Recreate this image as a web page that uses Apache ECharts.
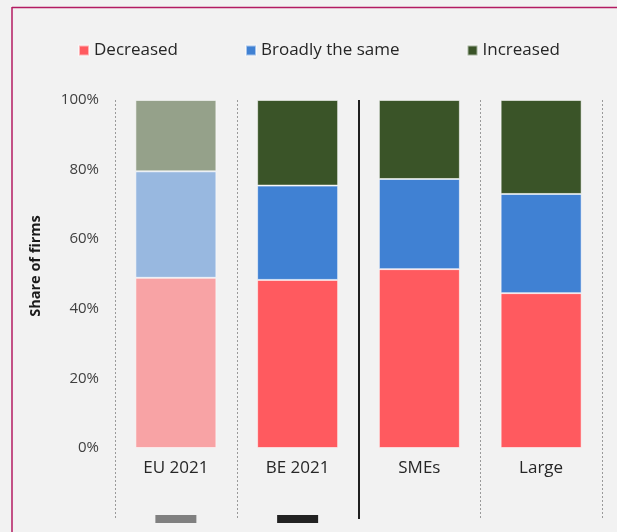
<!DOCTYPE html>
<html>
<head>
<meta charset="utf-8">
<script src="https://cdn.jsdelivr.net/npm/echarts@6/dist/echarts.min.js"></script>
<style>
html,body{margin:0;padding:0;background:#f2f2f2;overflow:hidden;}
#chart{position:absolute;left:0;top:0;width:617px;height:532px;}
</style>
</head>
<body>
<div id="chart"></div>
<script>
const categories = ['EU 2021', 'BE 2021', 'SMEs', 'Large'];
const seriesNames = ['Decreased', 'Broadly the same', 'Increased'];
const decreased = [48.9, 48.3, 51.4, 44.5];
const broadlySame = [30.6, 27.1, 25.9, 28.5];
const increased = [20.5, 24.6, 22.7, 27.0];
const yTicks = [0, 20, 40, 60, 80, 100];
const groupMarkers = [['EU 2021', '#808080'], ['BE 2021', '#222222']];

const mainColors = ['#ff5a5f', '#4081d3', '#3a5428'];
const fadedColors = ['#f8a3a5', '#98b8e0', '#95a18a'];
const valuesBySeries = [decreased, broadlySame, increased];

const chart = echarts.init(document.getElementById('chart'));
const font = '"Open Sans", "Noto Sans", sans-serif';

const barSeries = seriesNames.map((name, s) => ({
  name: name,
  type: 'bar',
  stack: 'total',
  xAxisIndex: 0,
  yAxisIndex: 0,
  barWidth: 81,
  itemStyle: { color: mainColors[s], borderColor: 'rgba(255,255,255,0.55)', borderWidth: 1 },
  data: valuesBySeries[s].map((v, i) => ({
    value: v,
    itemStyle: { color: i === 0 ? fadedColors[s] : mainColors[s] }
  }))
}));

chart.setOption({
  backgroundColor: '#f2f2f2',
  animation: false,
  textStyle: { fontFamily: font },
  graphic: [
    { type: 'line', silent: true, shape: { x1: 12, y1: 7, x2: 12, y2: 532 }, style: { stroke: '#b31b62', lineWidth: 1.5 } },
    { type: 'line', silent: true, shape: { x1: 12, y1: 7.5, x2: 617, y2: 7.5 }, style: { stroke: '#b31b62', lineWidth: 1.5 } }
  ],
  legend: {
    top: 37,
    left: 73,
    itemWidth: 10,
    itemHeight: 10,
    itemGap: 67,
    icon: 'rect',
    textStyle: { fontSize: 17, color: '#262626', fontFamily: font },
    data: seriesNames
  },
  grid: [
    { left: 115, right: 15, top: 100, bottom: 84 },
    { left: 115, right: 15, top: 100, bottom: 13 },
    { left: 115, right: 15, top: 515, height: 8 }
  ],
  xAxis: [
    {
      type: 'category', gridIndex: 0, data: categories,
      axisLine: { show: false }, axisTick: { show: false },
      axisLabel: { fontSize: 17, color: '#262626', margin: 12, fontFamily: font }
    },
    {
      type: 'value', gridIndex: 1, min: 0, max: 4, interval: 1,
      axisLine: { show: false }, axisTick: { show: false }, axisLabel: { show: false },
      splitLine: { show: true, lineStyle: { type: [2, 2], width: 1, color: ['#9a9a9a', '#9a9a9a', 'rgba(0,0,0,0)', '#9a9a9a', '#9a9a9a'] } }
    },
    {
      type: 'category', gridIndex: 2, data: categories, show: false
    }
  ],
  yAxis: [
    {
      type: 'value', gridIndex: 0, min: 0, max: 100, interval: 20,
      name: 'Share of firms', nameLocation: 'middle', nameGap: 72,
      nameTextStyle: { fontSize: 14.5, fontWeight: 'bold', color: '#1a1a1a', fontFamily: font, padding: [0, 0, 0, 16] },
      axisLine: { show: false }, axisTick: { show: false }, splitLine: { show: false },
      axisLabel: { fontSize: 15, color: '#404040', margin: 16, formatter: v => yTicks.includes(v) ? v + '%' : '' }
    },
    { type: 'value', gridIndex: 1, min: 0, max: 1, show: false, splitLine: { show: false } },
    { type: 'value', gridIndex: 2, min: 0, max: 1, show: false, splitLine: { show: false } }
  ],
  series: barSeries.concat([
    {
      type: 'line', xAxisIndex: 1, yAxisIndex: 1, data: [], silent: true,
      markLine: {
        silent: true, symbol: 'none', label: { show: false },
        lineStyle: { type: 'solid', color: '#1f1f1f', width: 2 },
        data: [[{ coord: [2, 0] }, { coord: [2, 1] }]]
      }
    },
    {
      type: 'scatter', xAxisIndex: 2, yAxisIndex: 2, symbol: 'rect', symbolSize: [41, 8], silent: true,
      itemStyle: { opacity: 1 },
      data: groupMarkers.map(m => ({ value: [m[0], 0.5], itemStyle: { color: m[1], opacity: 1 } }))
    }
  ])
});
</script>
</body>
</html>
